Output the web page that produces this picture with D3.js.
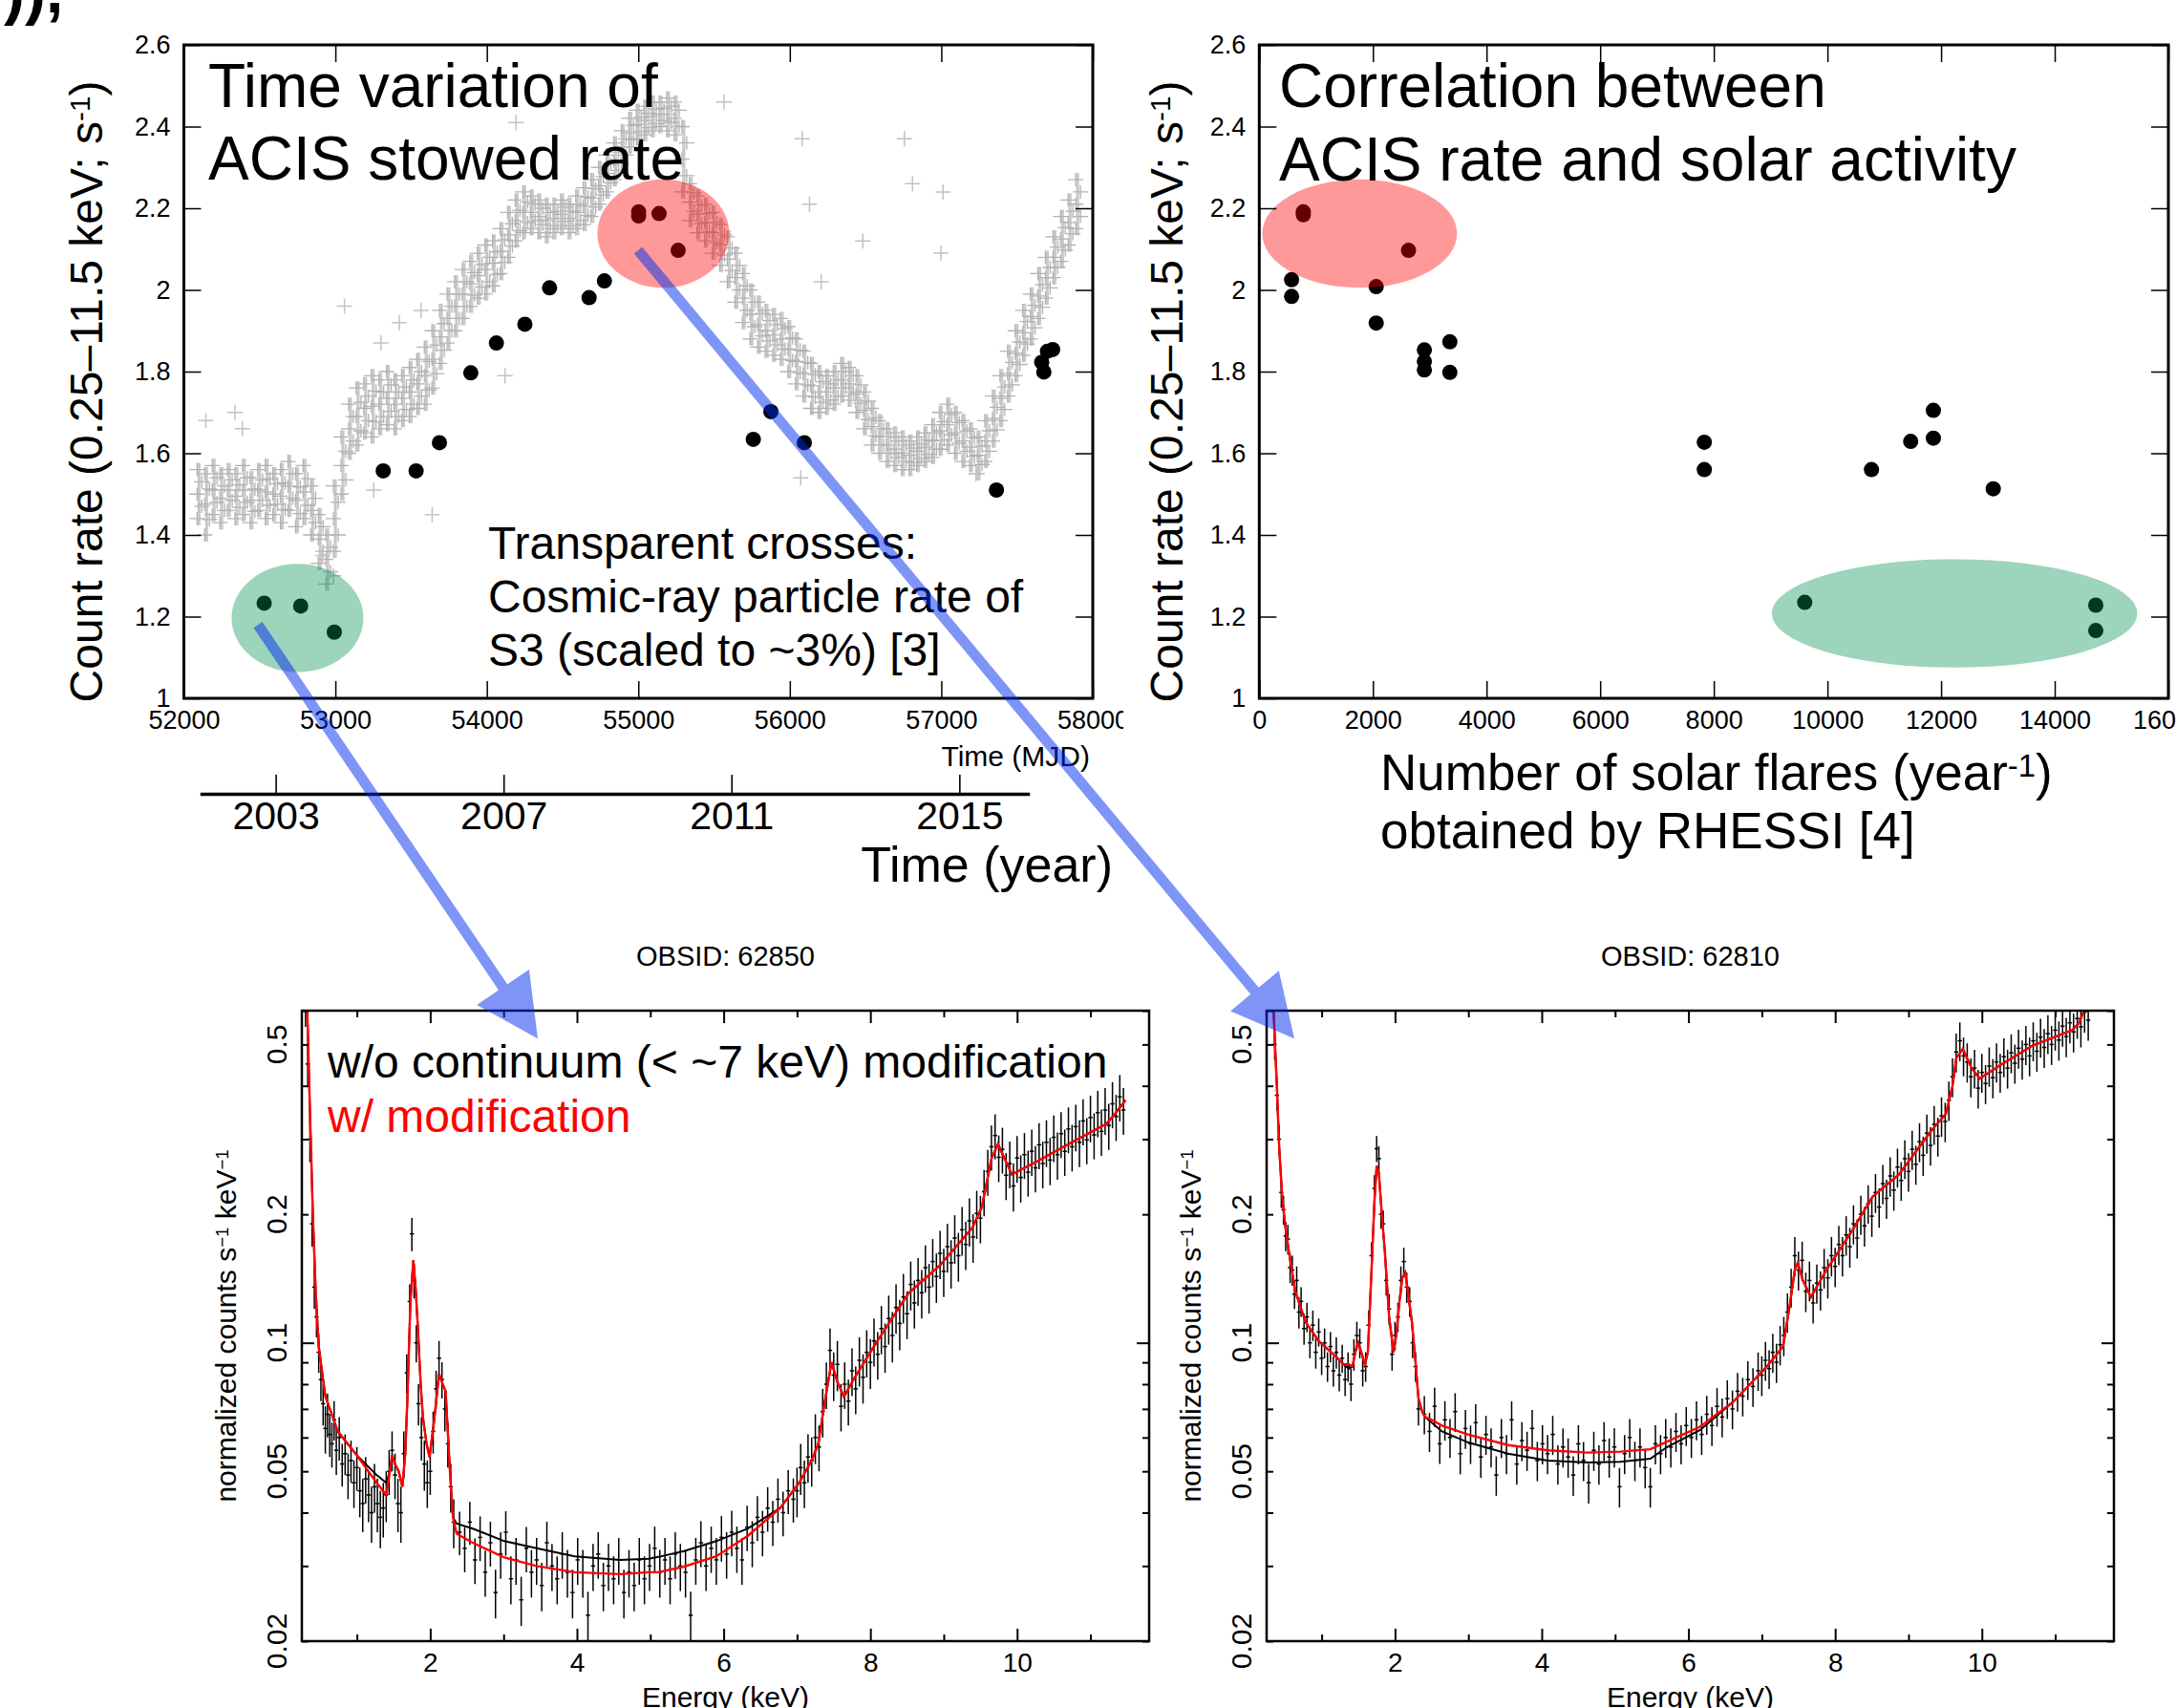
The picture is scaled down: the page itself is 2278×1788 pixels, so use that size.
<!DOCTYPE html>
<html><head><meta charset="utf-8">
<script src="https://d3js.org/d3.v7.min.js"></script>
<style>
html,body{margin:0;padding:0;background:#fff;}
svg{display:block;}
</style></head><body>
<svg id="fig" width="2278" height="1788"></svg>
<script>
// ---------------- DATA ----------------
// Top-left: ACIS stowed rate (black dots)
const stowMjd  = [52530,52771,52993,53316,53533,53687,53894,54063,54251,54414,54675,54776,55002,55002,55137,55263,55759,55875,56096,57364,57663,57677,57701,57735];
const stowRate = [1.233,1.226,1.162,1.557,1.557,1.626,1.797,1.870,1.916,2.005,1.981,2.022,2.191,2.181,2.187,2.097,1.634,1.702,1.626,1.510,1.823,1.799,1.850,1.854];

// Top-left: cosmic-ray particle rate of S3 (band read as low/high envelope every 50 d)
const crMjd = [52100,52150,52200,52250,52300,52350,52400,52450,52500,52550,52600,52650,52700,52750,52800,52850,52900,52950,53000,53050,53100,53150,53200,53250,53300,53350,53400,53450,53500,53550,53600,53650,53700,53750,53800,53850,53900,53950,54000,54050,54100,54150,54200,54250,54300,54350,54400,54450,54500,54550,54600,54650,54700,54750,54800,54850,54900,54950,55000,55050,55100,55150,55200,55250,55300,55350,55400,55450,55500,55550,55600,55650,55700,55750,55800,55850,55900,55950,56000,56050,56100,56150,56200,56250,56300,56350,56400,56450,56500,56550,56600,56650,56700,56750,56800,56850,56900,56950,57000,57050,57100,57150,57200,57250,57300,57350,57400,57450,57500,57550,57600,57650,57700,57750,57800,57850,57900];
const crLo = [1.44,1.40,1.45,1.43,1.46,1.44,1.45,1.43,1.46,1.44, 1.45,1.43,1.46,1.42,1.44,1.40,1.33,1.28,1.36,1.50, 1.60,1.62,1.65,1.64,1.66,1.67,1.66,1.68,1.69,1.71, 1.72,1.76,1.82,1.87,1.90,1.93,1.96,1.98,1.99,2.01, 2.04,2.08,2.12,2.14,2.15,2.14,2.13,2.14,2.15,2.14, 2.15,2.16,2.18,2.21,2.24,2.27,2.31,2.35,2.37,2.38, 2.39,2.40,2.39,2.38,2.24,2.17,2.14,2.12,2.09,2.06, 2.02,1.97,1.92,1.88,1.86,1.85,1.84,1.83,1.80,1.77, 1.74,1.71,1.70,1.71,1.72,1.74,1.73,1.70,1.66,1.62, 1.60,1.58,1.57,1.56,1.56,1.57,1.58,1.59,1.61,1.62, 1.60,1.58,1.57,1.55,1.58,1.63,1.68,1.74,1.79,1.84, 1.88,1.93,1.98,2.03,2.07,2.11,2.15];
const crHi = [1.56,1.55,1.57,1.55,1.56,1.55,1.57,1.54,1.56,1.57, 1.55,1.56,1.58,1.55,1.57,1.52,1.45,1.40,1.52,1.64, 1.72,1.76,1.77,1.79,1.78,1.80,1.78,1.79,1.81,1.83, 1.86,1.90,1.95,1.99,2.02,2.05,2.07,2.09,2.11,2.12, 2.15,2.19,2.22,2.24,2.23,2.22,2.21,2.21,2.22,2.21, 2.23,2.25,2.27,2.30,2.33,2.36,2.39,2.42,2.44,2.45, 2.46,2.46,2.47,2.46,2.40,2.26,2.23,2.21,2.19,2.16, 2.13,2.09,2.04,2.00,1.97,1.95,1.94,1.93,1.91,1.88, 1.85,1.82,1.80,1.79,1.80,1.82,1.81,1.79,1.75,1.71, 1.68,1.66,1.65,1.64,1.63,1.64,1.65,1.67,1.70,1.72, 1.70,1.68,1.66,1.64,1.68,1.74,1.79,1.85,1.90,1.95, 1.99,2.04,2.08,2.13,2.18,2.22,2.27];
const crOutMjd  = [52145,52337,52386,52988,52916,53060,53253,53301,53422,53566,53639,54120,54193,55566,56072,56082,56130,56207,56433,56482,56757,56810,56998,57012,57229];
const crOutRate = [1.68,1.70,1.66,1.30,1.35,1.96,1.51,1.87,1.92,1.95,1.45,1.79,2.41,2.46,1.54,2.37,2.21,2.02,1.73,2.12,2.37,2.26,2.09,2.24,1.55];

// Top-right: rate vs number of solar flares
const flareNum  = [569,569,775,775,2627,2058,2058,2906,2906,2906,3354,3354,7833,7833,9600,10775,11465,11864,11864,12918,14722,14722];
const flareRate = [2.025,1.984,2.191,2.184,2.097,2.008,1.919,1.853,1.825,1.804,1.873,1.798,1.627,1.560,1.235,1.560,1.629,1.705,1.637,1.513,1.228,1.166];

// Ticks
const mjdTicks   = [52000,53000,54000,55000,56000,57000,58000];
const rateTicks  = [1,1.2,1.4,1.6,1.8,2,2.2,2.4,2.6];
const flareTicks = [0,2000,4000,6000,8000,10000,12000,14000,16000];
const yearTicks  = [2003,2007,2011,2015];
const eMajor = [2,4,6,8,10];
const eMinor = [1,3,5,7,9,11];
const cLabels = [0.02,0.05,0.1,0.2,0.5];
const cMajor = [0.1];
const cMinor = [0.02,0.03,0.04,0.05,0.06,0.07,0.08,0.09,0.2,0.3,0.4,0.5,0.6];

// Highlight ellipses (data units)
const hlLeftMjd = [52750,55165], hlLeftRate = [1.1965,2.138], hlLeftRxMjd = [435,435], hlRy = [0.1326,0.1326];
const hlRightFl = [12237,1766], hlRightRate = [1.208,2.138], hlRightRxFl = [3217,1714];
const hlColors = ["rgb(0,143,82)","rgb(255,0,0)"], hlOpac = [0.39,0.4];

// Spectra: energy grids
const specE_low = [0.30,0.33,0.36,0.39,0.42,0.45,0.48,0.51,0.54,0.57,0.60,0.63,0.66,0.69,0.72,0.76,0.80,0.84,0.88,0.92,0.96,1.00,1.04,1.08,1.12,1.16,1.20,1.24,1.28,1.32,1.36,1.40,1.44,1.48,1.52,1.56,1.60,1.64,1.68,1.72,1.75,1.78,1.81,1.84,1.88,1.92,1.96,2.00,2.04,2.08,2.12,2.16,2.20,2.24,2.28,2.32];
const specE_mid = [2.40,2.47,2.54,2.61,2.68,2.75,2.82,2.89,2.96,3.03,3.10,3.17,3.24,3.31,3.38,3.45,3.52,3.59,3.66,3.73,3.80,3.87,3.94,4.01,4.08,4.15,4.22,4.29,4.36,4.43,4.50,4.57,4.64,4.71,4.78,4.85,4.92,4.99,5.06,5.13,5.20,5.27,5.34,5.41,5.48,5.55,5.62,5.69,5.76,5.83,5.90,5.97,6.04,6.11,6.18,6.25,6.32,6.39,6.46,6.53,6.60,6.67,6.74,6.81,6.88,6.95];
const specE_high = [7.00,7.05,7.10,7.15,7.20,7.25,7.30,7.35,7.40,7.45,7.50,7.55,7.60,7.65,7.70,7.75,7.80,7.85,7.90,7.95,8.00,8.05,8.10,8.15,8.20,8.25,8.30,8.35,8.40,8.45,8.50,8.55,8.60,8.65,8.70,8.75,8.80,8.85,8.90,8.95,9.00,9.05,9.10,9.15,9.20,9.25,9.30,9.35,9.40,9.45,9.50,9.55,9.60,9.65,9.70,9.75,9.80,9.85,9.90,9.95,10.00,10.05,10.10,10.15,10.20,10.25,10.30,10.35,10.40,10.45,10.50,10.55,10.60,10.65,10.70,10.75,10.80,10.85,10.90,10.95,11.00,11.05,11.10,11.15,11.20,11.25,11.30,11.35,11.40,11.45];

// OBSID 62850 (left) data
const specL_V_low = [0.62,0.45,0.30,0.19,0.135,0.115,0.095,0.082,0.072,0.063,0.068,0.061,0.058,0.066,0.056,0.060,0.052,0.055,0.049,0.053,0.047,0.051,0.045,0.042,0.048,0.044,0.040,0.046,0.042,0.039,0.041,0.044,0.050,0.056,0.049,0.042,0.040,0.055,0.085,0.125,0.180,0.140,0.100,0.072,0.060,0.052,0.047,0.050,0.062,0.078,0.092,0.082,0.070,0.058,0.046,0.038];
const specL_dV_low = [0.07,0.05,0.035,0.022,0.015,0.012,0.01,0.009,0.008,0.008,0.008,0.007,0.007,0.007,0.007,0.007,0.006,0.006,0.006,0.006,0.006,0.006,0.006,0.006,0.006,0.006,0.006,0.006,0.006,0.006,0.006,0.006,0.006,0.006,0.006,0.006,0.006,0.007,0.009,0.012,0.016,0.013,0.01,0.008,0.007,0.007,0.006,0.006,0.007,0.008,0.009,0.008,0.008,0.007,0.006,0.005];
const specL_V_mid = [.036,.033,.038,.031,.035,.029,.034,.026,.032,.036,.028,.031,.025,.033,.029,.031,.027,.034,.030,.028,.032,.029,.026,.031,.029,.023,.030,.032,.027,.030,.028,.031,.026,.029,.027,.031,.028,.030,.033,.029,.031,.028,.032,.030,.029,.023,.031,.034,.030,.033,.031,.035,.032,.036,.033,.031,.037,.034,.039,.036,.041,.038,.043,.040,.045,.043];
const specL_dV_mid = [.0042,.004,.0044,.0038,.0042,.0036,.0041,.0034,.004,.0043,.0036,.0039,.0033,.004,.0037,.0039,.0035,.0041,.0038,.0036,.004,.0037,.0034,.0039,.0037,.0031,.0038,.004,.0035,.0038,.0036,.0039,.0034,.0037,.0035,.0039,.0036,.0038,.0041,.0037,.0039,.0036,.004,.0038,.0037,.0031,.0039,.0042,.0038,.0041,.0039,.0043,.004,.0044,.0041,.0039,.0045,.0042,.0047,.0044,.0049,.0046,.0051,.0048,.0053,.0051];
const specL_V_high = [.045,.051,.047,.054,.053,.060,.057,.069,.080,.096,.084,.089,.071,.080,.073,.086,.078,.091,.083,.095,.090,.101,.094,.108,.098,.114,.104,.121,.111,.128,.117,.137,.124,.140,.131,.150,.135,.155,.143,.162,.147,.168,.154,.176,.160,.184,.170,.193,.177,.201,.196,.226,.252,.288,.306,.272,.284,.247,.263,.233,.271,.244,.276,.251,.281,.257,.291,.263,.295,.268,.303,.276,.309,.281,.317,.288,.321,.295,.331,.299,.337,.307,.346,.313,.351,.323,.363,.339,.377,.351];
const specL_dV_high = [.006,.007,.006,.007,.007,.008,.007,.009,.010,.012, .011,.012,.009,.010,.009,.011,.010,.012,.011,.012, .012,.013,.012,.014,.013,.015,.014,.016,.015,.017, .015,.018,.016,.018,.017,.019,.018,.020,.019,.021, .019,.022,.020,.023,.021,.024,.022,.025,.023,.026, .025,.028,.031,.035,.037,.034,.035,.031,.033,.030, .034,.031,.034,.031,.035,.032,.036,.033,.037,.034, .038,.035,.038,.035,.039,.036,.040,.037,.041,.037, .042,.038,.043,.039,.044,.040,.045,.042,.047,.044];

// OBSID 62810 (right) data
const specR_V_low = [0.85,0.68,0.5,0.38,0.3,0.225,0.205,0.178,0.175,0.15,0.148,0.13,0.14,0.118,0.125,0.108,0.115,0.1,0.11,0.095,0.106,0.092,0.1,0.088,0.098,0.086,0.095,0.084,0.092,0.082,0.088,0.08,0.094,0.104,0.1,0.086,0.088,0.11,0.16,0.23,0.285,0.27,0.2,0.19,0.14,0.12,0.094,0.104,0.115,0.14,0.155,0.135,0.125,0.1,0.088,0.07];
const specR_dV_low = [.07,.055,.04,.03,.024,.018,.016,.014,.014,.012,.012,.01,.011,.01,.01,.009,.009,.008,.009,.008,.008,.008,.008,.007,.008,.007,.008,.007,.007,.007,.007,.007,.008,.008,.008,.007,.007,.009,.012,.017,.02,.019,.015,.014,.011,.01,.008,.008,.009,.011,.012,.011,.01,.008,.007,.006];
const specR_V_mid = [.068,.062,.071,.058,.066,.060,.069,.055,.063,.058,.065,.054,.061,.057,.049,.060,.055,.066,.052,.059,.056,.063,.053,.058,.055,.061,.052,.057,.054,.049,.058,.053,.047,.056,.052,.059,.054,.057,.046,.055,.060,.053,.057,.051,.046,.058,.055,.060,.057,.062,.058,.064,.060,.066,.061,.068,.064,.071,.067,.074,.070,.077,.075,.082,.079,.086];
const specR_dV_mid = [.007,.0065,.0075,.006,.007,.0063,.0072,.0058,.0066,.006,.0068,.0057,.0064,.006,.0052,.0063,.0058,.0069,.0055,.0062,.0059,.0066,.0056,.0061,.0058,.0064,.0055,.006,.0057,.0052,.0061,.0056,.005,.0059,.0055,.0062,.0057,.006,.0049,.0058,.0063,.0056,.006,.0054,.0049,.0061,.0058,.0063,.006,.0065,.0061,.0067,.0063,.0069,.0064,.0071,.0067,.0074,.007,.0077,.0073,.008,.0078,.0085,.0082,.0089];
const specR_V_high = [.084,.091,.087,.095,.090,.099,.104,.118,.135,.160,.148,.156,.132,.140,.124,.138,.133,.150,.142,.160,.151,.170,.160,.179,.168,.190,.176,.200,.188,.212,.198,.225,.208,.236,.218,.246,.228,.258,.240,.270,.252,.284,.262,.296,.275,.310,.290,.325,.305,.340,.330,.370,.420,.480,.510,.470,.455,.420,.440,.395,.430,.405,.445,.418,.455,.430,.468,.440,.478,.452,.490,.462,.500,.470,.510,.482,.520,.492,.530,.500,.540,.512,.552,.522,.562,.535,.575,.550,.595,.570];
const specR_dV_high = [.009,.0095,.009,.010,.0095,.0105,.011,.0125,.014,.017, .0155,.0165,.014,.015,.013,.0145,.014,.016,.015,.017, .016,.018,.017,.019,.018,.020,.0185,.021,.020,.022, .021,.0235,.022,.025,.023,.026,.024,.027,.025,.028, .026,.030,.0275,.031,.029,.0325,.030,.034,.032,.036, .035,.039,.044,.050,.053,.049,.048,.044,.046,.041, .045,.0425,.047,.044,.048,.045,.049,.046,.050,.0475, .051,.0485,.0525,.049,.0535,.0505,.0545,.0515,.0555,.0525, .0565,.054,.058,.055,.059,.056,.060,.058,.0625,.060];

// Models
const mL_E = [0.26,0.30,0.33,0.36,0.40,0.44,0.48,0.57,0.74,1.00,1.27,1.40,1.45,1.48,1.52,1.57,1.62,1.66,1.69,1.73,1.77,1.80,1.83,1.87,1.90,1.95,1.99,2.05,2.12,2.17,2.21,2.27,2.31,2.36,2.58,3.01,3.45,3.97,4.59,4.98,5.11,5.46,5.90,6.33,6.77,7.03,7.20,7.29,7.38,7.47,7.55,7.64,7.77,8.08,8.52,8.95,9.39,9.52,9.65,9.74,9.83,9.93,10.27,10.70,11.22,11.31,11.48];
const mL_black = [1.2,0.8,0.55,0.35,0.2,0.13,0.098,0.075,0.062,0.0545,0.049,0.047,0.05,0.0545,0.052,0.05,0.046,0.055,0.075,0.125,0.156,0.135,0.11,0.08,0.067,0.058,0.054,0.065,0.0845,0.08,0.077,0.0496,0.039,0.0377,0.0367,0.0343,0.033,0.0316,0.031,0.0312,0.0315,0.0325,0.0343,0.0367,0.041,0.047,0.053,0.058,0.073,0.090,0.081,0.0747,0.082,0.1,0.1307,0.152,0.186,0.208,0.27,0.292,0.27,0.248,0.266,0.292,0.326,0.34,0.37];
const mL_red = [1.2,0.8,0.55,0.35,0.2,0.13,0.098,0.075,0.062,0.0545,0.047,0.044,0.05,0.0545,0.052,0.05,0.046,0.055,0.075,0.125,0.156,0.135,0.11,0.08,0.067,0.058,0.054,0.065,0.0845,0.08,0.077,0.0496,0.039,0.0357,0.034,0.0314,0.030,0.029,0.0287,0.029,0.029,0.0299,0.0316,0.0353,0.041,0.047,0.053,0.058,0.073,0.090,0.081,0.0747,0.082,0.1,0.1307,0.152,0.186,0.208,0.27,0.292,0.27,0.248,0.266,0.292,0.326,0.34,0.37];
const mR_E = [0.26,0.30,0.33,0.36,0.39,0.42,0.46,0.50,0.55,0.64,0.78,0.96,1.19,1.30,1.37,1.42,1.47,1.50,1.54,1.59,1.63,1.68,1.72,1.75,1.78,1.82,1.86,1.92,1.98,2.02,2.06,2.10,2.14,2.18,2.23,2.28,2.32,2.37,2.41,2.50,2.64,3.00,3.54,4.08,4.62,5.07,5.48,5.71,6.16,6.61,7.07,7.29,7.38,7.45,7.49,7.56,7.67,7.88,8.24,8.51,8.87,9.33,9.51,9.60,9.65,9.74,9.86,9.97,10.24,10.69,11.23,11.32,11.43];
const mR_black = [1.5,0.9,0.7,0.52,0.4,0.29,0.222,0.19,0.165,0.132,0.112,0.101,0.093,0.089,0.087,0.088,0.097,0.100,0.095,0.089,0.095,0.148,0.215,0.26,0.25,0.20,0.165,0.115,0.095,0.105,0.125,0.142,0.146,0.13,0.112,0.09,0.074,0.069,0.067,0.065,0.062,0.0584,0.055,0.053,0.0524,0.0526,0.0535,0.057,0.0625,0.0727,0.088,0.098,0.122,0.148,0.154,0.14,0.128,0.148,0.184,0.22,0.248,0.317,0.344,0.40,0.464,0.488,0.44,0.416,0.446,0.497,0.54,0.56,0.62];
const mR_red = [1.5,0.9,0.7,0.52,0.4,0.29,0.222,0.19,0.165,0.132,0.112,0.101,0.093,0.089,0.089,0.088,0.097,0.100,0.095,0.089,0.095,0.148,0.215,0.26,0.25,0.20,0.165,0.115,0.095,0.105,0.125,0.142,0.146,0.13,0.112,0.09,0.074,0.069,0.067,0.066,0.064,0.0609,0.0576,0.056,0.0553,0.0556,0.0563,0.0587,0.0636,0.0727,0.088,0.098,0.122,0.148,0.154,0.14,0.128,0.148,0.184,0.22,0.248,0.317,0.344,0.40,0.464,0.488,0.44,0.416,0.446,0.497,0.54,0.56,0.62];

// ---------------- DRAWING ----------------
const FONT = '"Liberation Sans", Arial, Helvetica, sans-serif';
const svg = d3.select("#fig").attr("font-family", FONT);
svg.append("rect").attr("width",2278).attr("height",1788).attr("fill","#fff");
const defs = svg.append("defs");

const xMjd  = d3.scaleLinear().domain([52000,58000]).range([192.5,1144]);
const yRateL = d3.scaleLinear().domain([1,2.6]).range([731,47]);
const xFl   = d3.scaleLinear().domain([0,16000]).range([1318.3,2270]);
const yRateR = d3.scaleLinear().domain([1,2.6]).range([731,47]);
const xYear = d3.scaleLinear().domain([2001.67,2016.23]).range([209.3,1077.7]);
const xEL = d3.scaleLinear().domain([0.25,11.8]).range([316,1203]);
const xER = d3.scaleLinear().domain([0.25,11.8]).range([1326,2213]);
const yCL = d3.scaleLog().domain([0.02,0.6]).range([1718,1058]);
const yCR = d3.scaleLog().domain([0.02,0.6]).range([1718,1058]);

const fmtRate = d => String(+d.toFixed(1));

function styleAxis(g, size, tw) {
  g.select(".domain").remove();
  g.selectAll(".tick line").attr("stroke","#000").attr("stroke-width", tw || 1.5);
  g.selectAll("text").attr("font-size", size).attr("font-family", FONT).attr("fill","#000");
}

function rich(parent, x, y, parts, size, opts = {}) {
  const t = parent.append("text").attr("font-size", size).attr("fill", opts.fill || "#000")
    .attr("text-anchor", opts.anchor || "start");
  if (opts.weight) t.attr("font-weight", opts.weight);
  if (opts.rotate) t.attr("transform", `translate(${x},${y}) rotate(${opts.rotate})`);
  else t.attr("x", x).attr("y", y);
  parts.forEach(p => {
    if (typeof p === "string") t.append("tspan").text(p);
    else t.append("tspan").text(p.sup).attr("font-size", size * 0.62).attr("baseline-shift", "42%");
  });
  return t;
}

function topFrame(g, x, y, xTicks) {
  const [x0,x1] = x.range(), [y0,y1] = y.range();
  g.append("g").attr("transform",`translate(0,${y0})`)
    .call(d3.axisBottom(x).tickValues(xTicks).tickSize(-18).tickPadding(13).tickFormat(d3.format("d"))).call(styleAxis, 27);
  g.append("g").attr("transform",`translate(0,${y1})`)
    .call(d3.axisTop(x).tickValues(xTicks).tickSize(-18).tickFormat("")).call(styleAxis, 27);
  g.append("g").attr("transform",`translate(${x0},0)`)
    .call(d3.axisLeft(y).tickValues(rateTicks).tickSize(-18).tickPadding(14).tickFormat(fmtRate)).call(styleAxis, 27);
  g.append("g").attr("transform",`translate(${x1},0)`)
    .call(d3.axisRight(y).tickValues(rateTicks).tickSize(-18).tickFormat("")).call(styleAxis, 27);
  g.append("rect").attr("x",x0).attr("y",y1).attr("width",x1-x0).attr("height",y0-y1)
    .attr("fill","none").attr("stroke","#000").attr("stroke-width",3);
}

// stray text fragment at top-left corner (cut off by the page edge)
svg.append("text").attr("x",4).attr("y",13).attr("font-size",66).attr("font-weight","bold").attr("fill","#000").text(")),");

// ===== Top-left panel =====
defs.append("clipPath").attr("id","clipTL").append("rect").attr("x",0).attr("y",0).attr("width",1176).attr("height",1000);
const TL = svg.append("g").attr("clip-path","url(#clipTL)");

// cosmic-ray band (semi-transparent crosses)
const crG = TL.append("g").attr("opacity",0.9);
const crData = d3.range(crMjd.length).map(i => ({m: crMjd[i], lo: crLo[i], hi: crHi[i]}));
crG.selectAll("line.crv").data(crData).join("line").attr("class","crv")
  .attr("x1", d => xMjd(d.m)).attr("x2", d => xMjd(d.m))
  .attr("y1", d => yRateL(d.lo) + 7).attr("y2", d => yRateL(d.hi) - 7)
  .attr("stroke","#c4c4c4").attr("stroke-width",3.2);
[0, 0.25, 0.5, 0.75, 1].forEach((f, k) => {
  const val = d => d.lo + f * (d.hi - d.lo);
  crG.selectAll("path.crx" + k).data(crData).join("path").attr("class","crx" + k)
    .attr("d", d => { const x = xMjd(d.m) + (k % 2 ? 3 : -2), y = yRateL(val(d)); return `M${x-8},${y}H${x+8}M${x},${y-7}V${y+7}`; })
    .attr("fill","none").attr("stroke","#ababab").attr("stroke-width",1.3);
});
const outData = d3.range(crOutMjd.length).map(i => ({m: crOutMjd[i], r: crOutRate[i]}));
TL.append("g").attr("stroke","#c2c2c2").attr("stroke-width",1.5).selectAll("path").data(outData).join("path")
  .attr("d", d => { const x = xMjd(d.m), y = yRateL(d.r); return `M${x-8},${y}H${x+8}M${x},${y-8}V${y+8}`; })
  .attr("fill","none");

// black dots
TL.append("g").selectAll("circle").data(d3.range(stowMjd.length)).join("circle")
  .attr("cx", i => xMjd(stowMjd[i])).attr("cy", i => yRateL(stowRate[i])).attr("r", 8).attr("fill","#000");

// highlight ellipses
TL.append("g").selectAll("ellipse").data([0,1]).join("ellipse")
  .attr("cx", i => xMjd(hlLeftMjd[i])).attr("cy", i => yRateL(hlLeftRate[i]))
  .attr("rx", i => xMjd(hlLeftMjd[i] + hlLeftRxMjd[i]) - xMjd(hlLeftMjd[i]))
  .attr("ry", i => yRateL(hlLeftRate[i] - hlRy[i]) - yRateL(hlLeftRate[i]))
  .attr("fill", i => hlColors[i]).attr("fill-opacity", i => hlOpac[i]);

topFrame(TL, xMjd, yRateL, mjdTicks);

rich(TL, 218, 112, ["Time variation of"], 64);
rich(TL, 218, 188, ["ACIS stowed rate"], 64);
rich(TL, 511, 585, ["Transparent crosses:"], 48);
rich(TL, 511, 641, ["Cosmic-ray particle rate of"], 48);
rich(TL, 511, 697, ["S3 (scaled to ~3%) [3]"], 48);
rich(TL, 107, 410, ["Count rate (0.25\u201311.5 keV; s", {sup:"-1"}, ")"], 48, {anchor:"middle", rotate:-90});
rich(TL, 1141, 802, ["Time (MJD)"], 30, {anchor:"end"});

// year axis
const yearAxis = TL.append("g").attr("transform","translate(0,831)")
  .call(d3.axisBottom(xYear).tickValues(yearTicks).tickSize(-20).tickSizeOuter(0).tickPadding(8).tickFormat(d3.format("d")));
yearAxis.select(".domain").attr("stroke","#000").attr("stroke-width",3.5);
yearAxis.selectAll(".tick line").attr("stroke","#000").attr("stroke-width",1.6);
yearAxis.selectAll("text").attr("font-size",41).attr("font-family",FONT).attr("fill","#000");
rich(TL, 1165, 923, ["Time (year)"], 52, {anchor:"end"});

// ===== Top-right panel =====
const TR = svg.append("g");
TR.append("g").selectAll("circle").data(d3.range(flareNum.length)).join("circle")
  .attr("cx", i => xFl(flareNum[i])).attr("cy", i => yRateR(flareRate[i])).attr("r", 8).attr("fill","#000");
TR.append("g").selectAll("ellipse").data([0,1]).join("ellipse")
  .attr("cx", i => xFl(hlRightFl[i])).attr("cy", i => yRateR(hlRightRate[i]))
  .attr("rx", i => xFl(hlRightFl[i] + hlRightRxFl[i]) - xFl(hlRightFl[i]))
  .attr("ry", i => yRateR(hlRightRate[i] - hlRy[i]) - yRateR(hlRightRate[i]))
  .attr("fill", i => hlColors[i]).attr("fill-opacity", i => hlOpac[i]);
topFrame(TR, xFl, yRateR, flareTicks);
rich(TR, 1339, 112, ["Correlation between"], 64);
rich(TR, 1339, 189, ["ACIS rate and solar activity"], 64);
rich(TR, 1238, 410, ["Count rate (0.25\u201311.5 keV; s", {sup:"-1"}, ")"], 48, {anchor:"middle", rotate:-90});
rich(TR, 1445, 827, ["Number of solar flares (year", {sup:"-1"}, ")"], 53);
rich(TR, 1445, 888, ["obtained by RHESSI [4]"], 53);

// ===== Bottom spectra =====
function spectrumPanel(id, xs, ys, obsid, V, dV, mE, mB, mR, legend) {
  const [x0,x1] = xs.range(), [y0,y1] = ys.range();
  const g = svg.append("g");
  defs.append("clipPath").attr("id", id).append("rect").attr("x",x0).attr("y",y1).attr("width",x1-x0).attr("height",y0-y1);
  const inner = g.append("g").attr("clip-path",`url(#${id})`);
  const E = specE_low.concat(specE_mid, specE_high);
  const n = Math.min(E.length, V.length, dV.length);
  const pts = d3.range(n).map(i => ({e: E[i], v: V[i], d: dV[i]}));
  const dg = inner.append("g").attr("stroke","#000").attr("stroke-width",1.5);
  dg.selectAll("line.ey").data(pts).join("line").attr("class","ey")
    .attr("x1", d => xs(d.e)).attr("x2", d => xs(d.e))
    .attr("y1", d => ys(Math.max(d.v - d.d, 0.01))).attr("y2", d => ys(d.v + d.d));
  dg.selectAll("line.ex").data(pts).join("line").attr("class","ex")
    .attr("x1", d => xs(d.e) - 2.2).attr("x2", d => xs(d.e) + 2.2)
    .attr("y1", d => ys(d.v)).attr("y2", d => ys(d.v));
  const mB_pts = d3.range(mE.length).map(i => [mE[i], mB[i]]);
  const mR_pts = d3.range(mE.length).map(i => [mE[i], mR[i]]);
  const line = d3.line().x(d => xs(d[0])).y(d => ys(d[1]));
  inner.append("path").attr("d", line(mB_pts)).attr("fill","none").attr("stroke","#000").attr("stroke-width",2);
  inner.append("path").attr("d", line(mR_pts)).attr("fill","none").attr("stroke","#ff0000").attr("stroke-width",2.4);

  // axes
  g.append("g").attr("transform",`translate(0,${y0})`)
    .call(d3.axisBottom(xs).tickValues(eMajor).tickSize(-13).tickPadding(12).tickFormat(d3.format("d"))).call(styleAxis, 28, 2);
  g.append("g").attr("transform",`translate(0,${y0})`)
    .call(d3.axisBottom(xs).tickValues(eMinor).tickSize(-7).tickFormat("")).call(styleAxis, 28, 2);
  g.append("g").attr("transform",`translate(0,${y1})`)
    .call(d3.axisTop(xs).tickValues(eMajor).tickSize(-13).tickFormat("")).call(styleAxis, 28, 2);
  g.append("g").attr("transform",`translate(0,${y1})`)
    .call(d3.axisTop(xs).tickValues(eMinor).tickSize(-7).tickFormat("")).call(styleAxis, 28, 2);
  [[x0, d3.axisLeft], [x1, d3.axisRight]].forEach(([xx, ax]) => {
    g.append("g").attr("transform",`translate(${xx},0)`)
      .call(ax(ys).tickValues(cMajor).tickSize(-13).tickFormat("")).call(styleAxis, 28, 2);
    g.append("g").attr("transform",`translate(${xx},0)`)
      .call(ax(ys).tickValues(cMinor).tickSize(-7).tickFormat("")).call(styleAxis, 28, 2);
  });
  g.selectAll("text.ylab").data(cLabels).join("text").attr("class","ylab")
    .attr("transform", d => `translate(${x0 - 16},${ys(d)}) rotate(-90)`)
    .attr("text-anchor","middle").attr("font-size",30).attr("fill","#000").text(d => String(d));
  g.append("rect").attr("x",x0).attr("y",y1).attr("width",x1-x0).attr("height",y0-y1)
    .attr("fill","none").attr("stroke","#000").attr("stroke-width",2.5);

  const cx = (x0 + x1) / 2;
  rich(g, cx, 1011, [obsid], 29, {anchor:"middle"});
  rich(g, x0 - 69, (y0 + y1) / 2, ["normalized counts s", {sup:"\u22121"}, " keV", {sup:"\u22121"}], 30, {anchor:"middle", rotate:-90});
  rich(g, cx, 1787, ["Energy (keV)"], 30, {anchor:"middle"});
  if (legend) {
    rich(g, x0 + 27, 1128, [legend[0]], 48);
    rich(g, x0 + 27, 1185, [legend[1]], 48, {fill:"#ff0000"});
  }
}

spectrumPanel("clipBL", xEL, yCL, "OBSID: 62850",
  specL_V_low.concat(specL_V_mid, specL_V_high), specL_dV_low.concat(specL_dV_mid, specL_dV_high),
  mL_E, mL_black, mL_red, ["w/o continuum (< ~7 keV) modification", "w/ modification"]);
spectrumPanel("clipBR", xER, yCR, "OBSID: 62810",
  specR_V_low.concat(specR_V_mid, specR_V_high), specR_dV_low.concat(specR_dV_mid, specR_dV_high),
  mR_E, mR_black, mR_red, null);

// ===== Arrows (from top-left panel to spectra) =====
const arrows = [
  {from: [xMjd(52489), yRateL(1.180)], to: [xEL(3.466), yCL(0.516)]},
  {from: [xMjd(54998), yRateL(2.097)], to: [xER(0.628), yCR(0.516)]}
];
const AG = svg.append("g").attr("opacity",0.5);
arrows.forEach(a => {
  const [sx,sy] = a.from, [tx,ty] = a.to;
  const L = Math.hypot(tx - sx, ty - sy), ux = (tx - sx) / L, uy = (ty - sy) / L;
  const head = 65, half = 33;
  const bx = tx - ux * head, by = ty - uy * head;
  AG.append("line").attr("x1",sx).attr("y1",sy).attr("x2",bx + ux * 2).attr("y2",by + uy * 2)
    .attr("stroke","rgb(0,45,241)").attr("stroke-width",11);
  AG.append("path").attr("d", `M${tx},${ty}L${bx - uy * half},${by + ux * half}L${bx + uy * half},${by - ux * half}Z`)
    .attr("fill","rgb(0,45,241)");
});
</script>
</body></html>
